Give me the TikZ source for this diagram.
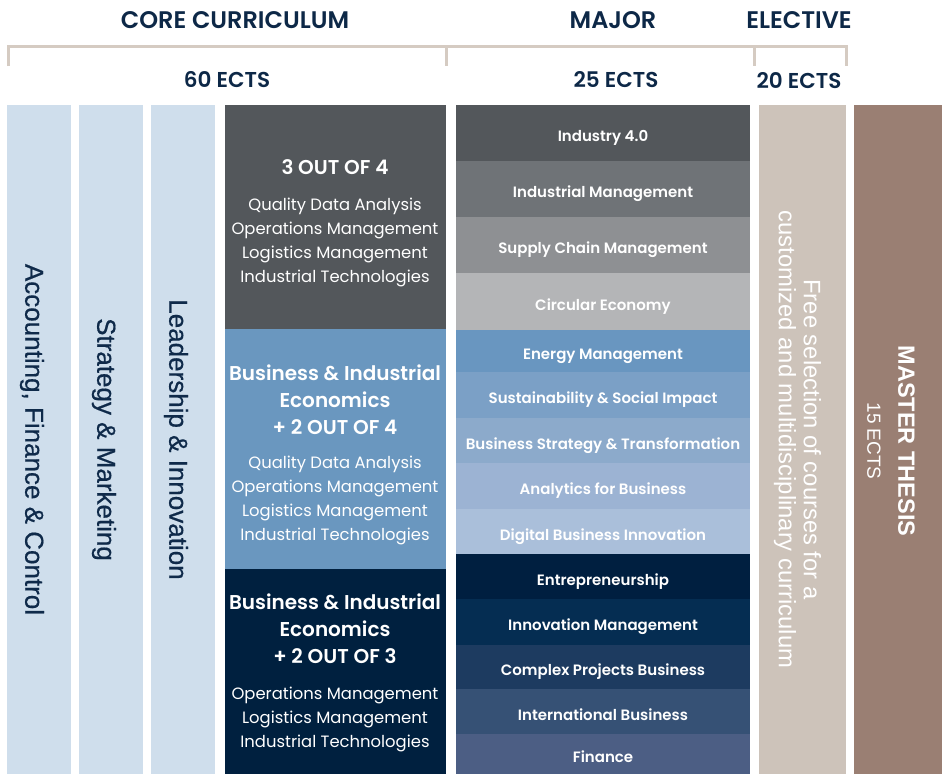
\documentclass[tikz,border=0pt]{standalone}
\usepackage{fontspec}
\setmainfont{Poppins}[BoldFont={Poppins SemiBold}]
\newfontfamily\sidefont[FakeBold=0.6]{Liberation Sans}
\newfontfamily\elecfont{Liberation Sans}
\usetikzlibrary{positioning}
\definecolor{headblue}{HTML}{0D2847}
\definecolor{bracketc}{HTML}{D5CBC2}
\definecolor{lightcol}{HTML}{CFDEEC}
\definecolor{sidetext}{HTML}{0F2A4A}
\definecolor{slate}{HTML}{53575B}
\definecolor{midblue}{HTML}{6A97BF}
\definecolor{navy}{HTML}{00203F}
\definecolor{elective}{HTML}{CDC3BA}
\definecolor{thesis}{HTML}{9A7F73}
\definecolor{majA}{HTML}{53575B}
\definecolor{majB}{HTML}{6F7377}
\definecolor{majC}{HTML}{8E9093}
\definecolor{majD}{HTML}{B4B5B7}
\definecolor{majE}{HTML}{6996C0}
\definecolor{majF}{HTML}{7BA0C6}
\definecolor{majG}{HTML}{8CAACB}
\definecolor{majH}{HTML}{9CB3D3}
\definecolor{majI}{HTML}{AABFDA}
\definecolor{majJ}{HTML}{001F40}
\definecolor{majK}{HTML}{052D52}
\definecolor{majL}{HTML}{1D3B60}
\definecolor{majM}{HTML}{365175}
\definecolor{majN}{HTML}{4C5E84}

\begin{document}
\begin{tikzpicture}[
    x=1pt, y=-1pt,
    nosep/.style={inner sep=0, outer sep=0},
    block/.style={nosep, rectangle, anchor=north west},
    header/.style={font=\fontsize{24}{26}\selectfont\bfseries, text=headblue},
    ects/.style={font=\fontsize{21.5}{24}\selectfont\bfseries, text=headblue},
    bracket/.style={draw=bracketc, line width=3pt},
    side/.style={rotate=-90, font=\sidefont\fontsize{26}{28}\selectfont, text=sidetext},
    optitle/.style={align=center, text=white, font=\fontsize{20}{27}\selectfont\bfseries},
    oplist/.style={align=center, text=white, font=\fontsize{16.4}{24}\selectfont},
    major/.style={block, minimum width=294pt, text=white, text height=17.5pt, text depth=0pt,
        font=\fontsize{15}{17}\selectfont\bfseries}]
\useasboundingbox (0,0) rectangle (942,774);

\node[header] (core) at (235,20) {CORE CURRICULUM};
\node[header] (majorhead) at (613,20) {MAJOR};
\node[header] (electhead) at (799,20) {ELECTIVE};
\node[ects] (coreects) at (227,80) {60 ECTS};
\node[ects] (majorects) at (616,80) {25 ECTS};
\node[ects] (electects) at (799,81) {20 ECTS};

\draw[bracket] (8,66) -- (8,46) -- (846,46) -- (846,66);
\draw[bracket] (446,46) -- (446,66);
\draw[bracket] (754,46) -- (754,66);

\node[block, fill=lightcol, minimum width=64pt, minimum height=669pt] (acc) at (7,105) {};
\node[block, fill=lightcol, minimum width=64pt, minimum height=669pt] (strat) at (79,105) {};
\node[block, fill=lightcol, minimum width=64pt, minimum height=669pt] (lead) at (151,105) {};
\node[side] (acctext) at ([xshift=-7pt]acc.center) {Accounting, Finance \& Control};
\node[side] (strattext) at ([xshift=-7pt]strat.center) {Strategy \& Marketing};
\node[side] (leadtext) at ([xshift=-7pt]lead.center) {Leadership \& Innovation};

\node[block, fill=slate, minimum width=221pt, minimum height=224pt] (optA) at (225,105) {};
\node[block, fill=midblue, minimum width=221pt, minimum height=240pt] (optB) at (225,329) {};
\node[block, fill=navy, minimum width=221pt, minimum height=205pt] (optC) at (225,569) {};
\node[optitle] (optAtitle) at (335,167) {3 OUT OF 4};
\node[oplist] (optAlist) at (335,242) {Quality Data Analysis\\Operations Management\\Logistics Management\\Industrial Technologies};
\node[optitle] (optBtitle) at (335,400) {Business \& Industrial\\Economics\\+ 2 OUT OF 4};
\node[oplist] (optBlist) at (335,500) {Quality Data Analysis\\Operations Management\\Logistics Management\\Industrial Technologies};
\node[optitle] (optCtitle) at (335,629) {Business \& Industrial\\Economics\\+ 2 OUT OF 3};
\node[oplist] (optClist) at (335,719) {Operations Management\\Logistics Management\\Industrial Technologies};

\node[major, fill=majA, minimum height=56pt] (ind) at (456,105) {Industry 4.0};
\node[major, fill=majB, minimum height=56pt] (indman) at (456,161) {Industrial Management};
\node[major, fill=majC, minimum height=56pt] (supply) at (456,217) {Supply Chain Management};
\node[major, fill=majD, minimum height=57pt] (circ) at (456,273) {Circular Economy};
\node[major, fill=majE, minimum height=42pt] (energy) at (456,330) {Energy Management};
\node[major, fill=majF, minimum height=46pt] (sust) at (456,372) {Sustainability \& Social Impact};
\node[major, fill=majG, minimum height=45pt] (bst) at (456,418) {Business Strategy \& Transformation};
\node[major, fill=majH, minimum height=46pt] (analytics) at (456,463) {Analytics for Business};
\node[major, fill=majI, minimum height=45pt] (digital) at (456,509) {Digital Business Innovation};
\node[major, fill=majJ, minimum height=45pt] (entre) at (456,554) {Entrepreneurship};
\node[major, fill=majK, minimum height=46pt] (innov) at (456,599) {Innovation Management};
\node[major, fill=majL, minimum height=44pt] (complex) at (456,645) {Complex Projects Business};
\node[major, fill=majM, minimum height=45pt] (intl) at (456,689) {International Business};
\node[major, fill=majN, minimum height=40pt] (fin) at (456,734) {Finance};

\node[block, fill=elective, minimum width=87pt, minimum height=669pt] (elect) at (759,105) {};
\node[side, text=white, align=center, font=\elecfont\fontsize{23.8}{25}\selectfont] (electtext) at ([xshift=-5pt]elect.center) {Free selection of courses for a\\customized and multidisciplinary curriculum};

\node[block, fill=thesis, minimum width=88pt, minimum height=669pt] (mthesis) at (854,105) {};
\node[side, text=white, align=center, font=\elecfont\fontsize{23.5}{31}\selectfont] (thesistext) at (891,441) {\bfseries MASTER THESIS\\\fontsize{19}{31}\selectfont 15 ECTS};
\end{tikzpicture}
\end{document}
